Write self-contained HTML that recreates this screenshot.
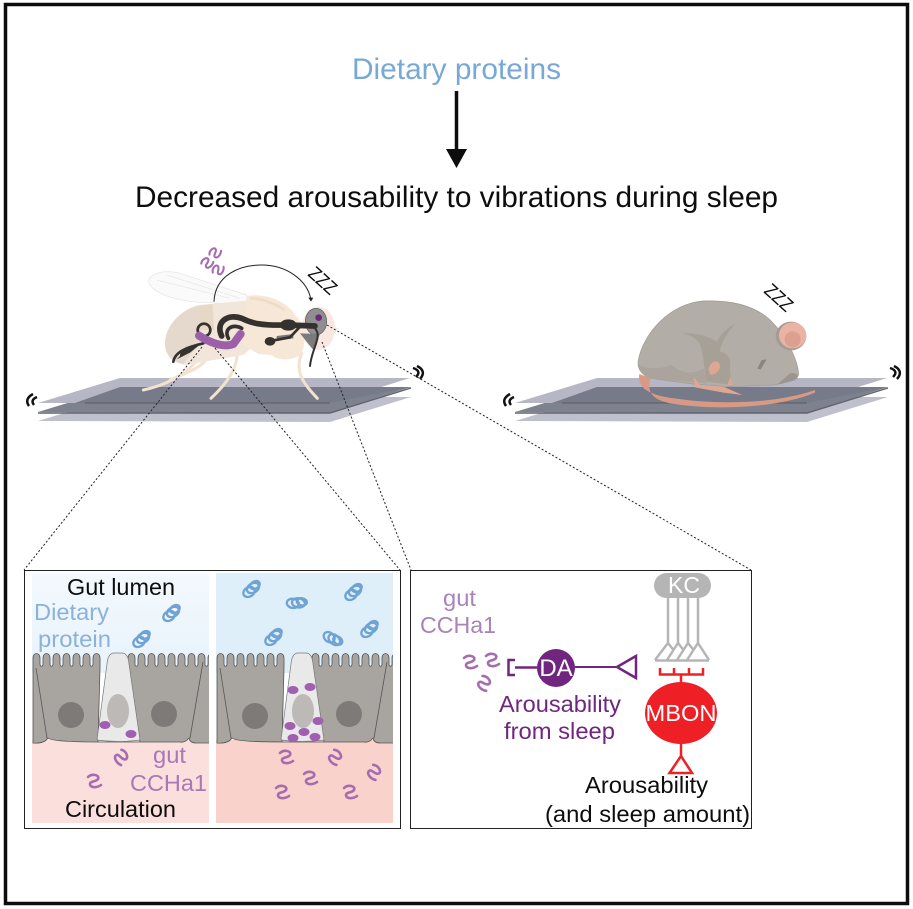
<!DOCTYPE html>
<html><head><meta charset="utf-8"><style>
html,body{margin:0;padding:0;background:#fff}
svg{display:block}
text{font-family:"Liberation Sans",Arial,sans-serif}
</style></head><body>
<svg width="913" height="909" viewBox="0 0 913 909" xmlns="http://www.w3.org/2000/svg">
<defs>
<path id="sq" d="M-6,-4 C-2,-8 6,-6 4,-2 C2,1 -4,0 -4,3 C-4,7 3,7 7,4" fill="none" stroke="#a56db0" stroke-width="2.6" stroke-linecap="round"/>
<g id="coil" fill="none" stroke="#6fa3d4" stroke-width="2.3">
<ellipse cx="-3" cy="3" rx="6" ry="4.6" transform="rotate(-30 -3 3)"/>
<ellipse cx="1" cy="-1" rx="6.5" ry="4.6" transform="rotate(-30 1 -1)"/>
<ellipse cx="3" cy="-4" rx="5" ry="3.6" transform="rotate(-30 3 -4)"/>
</g>
<g id="plat">
<polygon points="38,421 120,396 411,397 330,422" fill="#c0c0cd"/>
<polygon points="38,412 120,387 411,387 330,413" fill="#7e828f"/>
<path d="M38,413 L330,413 L411,388" fill="none" stroke="#5f6370" stroke-width="1.4"/>
<polygon points="38,403 120,378 410,378 330,403" fill="#b6b6c4"/>
<polygon points="75,403 120,387 411,387 330,403" fill="#777b89"/>
<path d="M85,403 L330,403" stroke="#5f6370" stroke-width="1.2"/>
<path d="M33,394 Q24,399 29,406 M37,397 Q30,400 34,405" fill="none" stroke="#111" stroke-width="2.5"/>
<path d="M413,368 Q422,371 416,377 M417,366 Q427,371 420,379" fill="none" stroke="#111" stroke-width="2.5"/>
</g>
<linearGradient id="lum" x1="0" y1="0" x2="0" y2="1"><stop offset="0" stop-color="#f3f9fe"/><stop offset="1" stop-color="#e8f3fb"/></linearGradient>
<clipPath id="c1"><rect x="32" y="573" width="177" height="250"/></clipPath>
<clipPath id="c2"><rect x="216" y="573" width="177" height="250"/></clipPath>
<g id="cells">
<path d="M33,743 V664 v-6 c0,-6 7,-6 7,0 v6 c0,3 3,3 3,0 v-6 c0,-6 7,-6 7,0 v6 c0,3 3,3 3,0 v-6 c0,-6 7,-6 7,0 v6 c0,3 3,3 3,0 v-6 c0,-6 7,-6 7,0 v6 c0,3 3,3 3,0 v-6 c0,-6 7,-6 7,0 v6 c0,3 3,3 3,0 v-6 c0,-6 7,-6 7,0 v6 c0,3 3,3 3,0 v-6 c0,-6 7,-6 7,0 v10 L98,742 H140 L128,668 V664 v-6 c0,-6 7,-6 7,0 v6 c0,3 3,3 3,0 v-6 c0,-6 7,-6 7,0 v6 c0,3 3,3 3,0 v-6 c0,-6 7,-6 7,0 v6 c0,3 3,3 3,0 v-6 c0,-6 7,-6 7,0 v6 c0,3 3,3 3,0 v-6 c0,-6 7,-6 7,0 v6 c0,3 3,3 3,0 v-6 c0,-6 7,-6 7,0 v6 c0,3 3,3 3,0 v-6 c0,-6 7,-6 7,0 v6 c0,3 3,3 3,0 v-6 c0,-6 7,-6 7,0 v6 c0,3 3,3 3,0 v-6 c0,-4 4,-4 4,0 V743 H196 Q190,743 189,738 Q185,743 180,742 H100 Q52,742 48,738 Q44,744 33,743 Z" fill="#a8a5a1" stroke="#555" stroke-width=".8"/>
<path d="M36,668 L47,738 M203,662 L190,738" fill="none" stroke="#555" stroke-width=".8"/>
<path d="M97,740 L107,664 Q108,653 114,653 H122 Q128,653 129,664 L140,740 Q118,743 97,740 Z" fill="#e9e9e9" stroke="#777" stroke-width=".7"/>
</g>
</defs>

<rect x="5.5" y="4.5" width="902" height="899" fill="#fff" stroke="#0d0d0d" stroke-width="3.5"/>

<text x="352" y="79" font-size="29.9" fill="#77a8d6" textLength="209" lengthAdjust="spacingAndGlyphs">Dietary proteins</text>
<path d="M456.5,91 V150" stroke="#0d0d0d" stroke-width="3.5"/>
<polygon points="446,149 467,149 456.5,168" fill="#0d0d0d"/>
<text x="135" y="207" font-size="29.7" fill="#0d0d0d" textLength="643" lengthAdjust="spacingAndGlyphs">Decreased arousability to vibrations during sleep</text>

<use href="#plat"/>
<use href="#plat" x="477"/>

<!-- Fly -->
<g transform="translate(130,230) scale(.33333)">
<path d="M55,155 C60,130 100,118 150,130 L350,195 L352,228 L250,218 C150,218 70,195 55,155 Z" fill="#fbfafa" stroke="#e6e4e4" stroke-width="2"/>
<path d="M80,150 L300,205 M110,135 L330,205" stroke="#e8e6e6" stroke-width="2" fill="none"/>
<g fill="none" stroke="#f2e2cf" stroke-width="9" stroke-linecap="round">
<path d="M215,370 C180,430 110,465 40,480"/>
<path d="M230,360 C250,400 170,430 120,450"/>
<path d="M322,360 C325,420 280,470 243,505"/>
<path d="M515,370 C490,430 530,470 562,505"/>
</g>
<path d="M105,340 C105,290 150,240 205,225 L350,212 L380,340 L340,375 L240,392 L170,405 C130,400 105,375 105,340 Z" fill="#f1e6d9"/>
<path d="M105,340 C105,290 150,240 205,228 L215,330 L160,402 C125,395 105,375 105,340 Z" fill="#e4d9cc"/>
<path d="M205,228 L248,222 L252,300 L210,300 Z" fill="#e6d8c6"/>
<path d="M350,198 C400,188 470,210 495,255 C530,285 530,350 510,375 C480,395 440,390 425,375 L385,372 L340,345 Z" fill="#f7e7d7"/>
<path d="M360,205 C400,205 440,225 465,240" fill="none" stroke="#eedcc8" stroke-width="8"/>
<ellipse cx="565" cy="295" rx="50" ry="65" fill="#f9e8e2"/>
<path d="M595,285 L625,295 L590,335 Z" fill="#f9e8e2"/>
<ellipse cx="558" cy="275" rx="32" ry="40" fill="#8f8f8f" stroke="#555" stroke-width="2"/>
<circle cx="566" cy="263" r="10" fill="#70267f"/>
<path d="M510,310 L570,312 L550,360 Z" fill="#7b7b7b"/>
<path d="M440,318 L490,312 L490,325 L440,330 Z" fill="#777"/>
<g fill="none" stroke="#35312e" stroke-linecap="round">
<path d="M130,395 C135,365 170,352 220,340" stroke-width="8"/>
<circle cx="222" cy="300" r="19" stroke-width="8"/>
<path d="M275,318 C255,275 295,250 335,265 C365,280 395,287 470,285 L555,288" stroke-width="17"/>
<path d="M295,325 C280,295 310,280 335,295" stroke-width="11"/>
<path d="M410,335 L480,322 L510,290" stroke-width="8"/>
<path d="M555,295 C578,320 545,355 540,408" stroke-width="6"/>
</g>
<path d="M150,378 C150,352 185,345 215,340 L180,368 L140,388 Z" fill="#35312e"/>
<ellipse cx="475" cy="285" rx="25" ry="17" fill="#35312e"/>
<ellipse cx="420" cy="334" rx="16" ry="13" fill="#35312e"/>
<path d="M207,317 C235,335 280,355 310,342 L332,312" fill="none" stroke="#9c60a8" stroke-width="24" stroke-linecap="round"/>
<path d="M252,215 C255,135 330,105 395,105 C470,105 530,150 542,205" fill="none" stroke="#222" stroke-width="3"/>
<polygon points="535,203 550,203 543,215" fill="#222"/>
</g>
<use href="#sq" transform="translate(215,253) rotate(-50) scale(.8)"/>
<use href="#sq" transform="translate(207,263) rotate(-40) scale(.8)"/>
<use href="#sq" transform="translate(218,270) rotate(-60) scale(.8)"/>
<text x="307" y="275" font-size="19" fill="#0d0d0d" transform="rotate(42 307 275)" textLength="31" lengthAdjust="spacingAndGlyphs">ZZZ</text>

<!-- Mouse -->
<g transform="translate(490,270) scale(.33333)">
<path d="M445,270 C460,190 540,100 640,93 C720,90 800,105 850,160 C890,200 922,270 925,305 C932,330 900,335 850,345 L720,350 L610,342 L480,325 C455,315 440,295 445,270 Z" fill="#b2ada7" stroke="#9f9a94" stroke-width="2"/>
<path d="M445,285 C480,300 520,295 545,285 C570,310 610,315 640,295 L650,340 L480,325 C455,315 445,300 445,285 Z" fill="#aaa49c"/>
<path d="M575,190 C620,188 660,200 680,215 C695,190 715,170 735,162 C710,190 690,225 690,245 C710,250 725,260 720,300 L725,345 L650,335 C640,300 645,250 625,215 C610,200 595,193 575,190 Z" fill="#a6a097"/>
<path d="M900,310 C925,305 930,325 910,332 L860,345 Z" fill="#9a958e"/>
<path d="M815,270 L830,268 L812,298 L802,296 Z" fill="#8a857e"/>
<ellipse cx="903" cy="198" rx="46" ry="43" fill="#a39d95"/>
<ellipse cx="908" cy="196" rx="41" ry="39" fill="#ebb3a4"/>
<ellipse cx="908" cy="208" rx="24" ry="24" fill="#dc9f90"/>
<path d="M448,312 C440,360 490,378 560,386 C660,402 850,405 975,360 L975,368 C850,420 650,418 555,402 C480,392 470,360 482,325 Z" fill="#d99a85"/>
<path d="M610,320 L632,348 L700,350 L757,375 L700,368 L615,352 Z" fill="#e0a692"/>
<path d="M655,300 C660,270 690,265 690,290 C688,305 670,320 660,312 Z" fill="#dfa593"/>
<path d="M712,345 L722,320 L728,345 Z" fill="#dfa593"/>
</g>
<text x="763" y="292" font-size="19" fill="#0d0d0d" transform="rotate(42 763 292)" textLength="31" lengthAdjust="spacingAndGlyphs">ZZZ</text>

<!-- Dotted zoom lines -->
<g fill="none" stroke="#222" stroke-width="1" stroke-dasharray="2 2">
<path d="M202,347 L24,570"/>
<path d="M215,348 L400,570"/>
<path d="M322,342 L411,570"/>
<path d="M327,325 L751,570"/>
</g>

<!-- Boxes -->
<rect x="24.5" y="570.5" width="376" height="258" fill="#fff" stroke="#222" stroke-width="1"/>
<rect x="410.5" y="570.5" width="341" height="258" fill="#fff" stroke="#222" stroke-width="1"/>

<!-- Gut panels -->
<rect x="32" y="573" width="177" height="100" fill="url(#lum)"/>
<rect x="32" y="740" width="177" height="83" fill="#fbdfdc"/>
<rect x="216" y="573" width="177" height="100" fill="#dfeffa"/>
<rect x="216" y="740" width="177" height="83" fill="#f9d3cb"/>
<g clip-path="url(#c1)"><use href="#cells"/></g>
<g clip-path="url(#c2)"><use href="#cells" x="184"/></g>
<g fill="#7d7a78"><circle cx="71" cy="715" r="13"/><circle cx="164" cy="714" r="13"/><circle cx="255" cy="716" r="13"/><circle cx="349" cy="714" r="13"/></g>
<g fill="#bdb9b6"><ellipse cx="118" cy="711" rx="11" ry="17"/><ellipse cx="303" cy="711" rx="11" ry="17"/></g>
<g fill="#a05fb0">
<ellipse cx="105" cy="725" rx="5.5" ry="4"/><ellipse cx="131" cy="734" rx="5.5" ry="4"/>
<ellipse cx="293" cy="690" rx="5.5" ry="4"/><ellipse cx="310" cy="687" rx="5.5" ry="4"/><ellipse cx="318" cy="721" rx="5.5" ry="4"/><ellipse cx="290" cy="726" rx="5.5" ry="4"/><ellipse cx="304" cy="732" rx="5.5" ry="4"/><ellipse cx="293" cy="738" rx="5.5" ry="4"/><ellipse cx="315" cy="737" rx="5.5" ry="4"/>
</g>
<use href="#coil" transform="translate(172,613)"/>
<use href="#coil" transform="translate(142,639)"/>
<use href="#coil" transform="translate(252,589)"/>
<use href="#coil" transform="translate(297,603) rotate(40)"/>
<use href="#coil" transform="translate(354,592)"/>
<use href="#coil" transform="translate(274,637)"/>
<use href="#coil" transform="translate(333,639) rotate(70)"/>
<use href="#coil" transform="translate(370,629)"/>
<use href="#sq" transform="translate(121,757) rotate(60)"/>
<use href="#sq" transform="translate(94,781)"/>
<use href="#sq" transform="translate(286,757)"/>
<use href="#sq" transform="translate(335,757) rotate(50)"/>
<use href="#sq" transform="translate(374,772) rotate(50)"/>
<use href="#sq" transform="translate(310,778)"/>
<use href="#sq" transform="translate(282,792)"/>
<use href="#sq" transform="translate(350,792)"/>

<g font-size="23.5">
<text x="67" y="595" fill="#0d0d0d" textLength="108" lengthAdjust="spacingAndGlyphs">Gut lumen</text>
<text x="34" y="620" fill="#8ab2db" textLength="75" lengthAdjust="spacingAndGlyphs">Dietary</text>
<text x="38" y="647" fill="#8ab2db" textLength="73" lengthAdjust="spacingAndGlyphs">protein</text>
<text x="153" y="763" fill="#a878b8" textLength="33" lengthAdjust="spacingAndGlyphs">gut</text>
<text x="130" y="791" fill="#a878b8" textLength="77" lengthAdjust="spacingAndGlyphs">CCHa1</text>
<text x="65" y="817" fill="#0d0d0d" textLength="111" lengthAdjust="spacingAndGlyphs">Circulation</text>
<text x="443" y="606" fill="#a884b8" textLength="33" lengthAdjust="spacingAndGlyphs">gut</text>
<text x="420" y="633" fill="#a884b8" textLength="76" lengthAdjust="spacingAndGlyphs">CCHa1</text>
<text x="499" y="712" fill="#70267f" textLength="122" lengthAdjust="spacingAndGlyphs">Arousability</text>
<text x="504" y="739" fill="#70267f" textLength="111" lengthAdjust="spacingAndGlyphs">from sleep</text>
<text x="585" y="793" fill="#0d0d0d" textLength="123" lengthAdjust="spacingAndGlyphs">Arousability</text>
<text x="545" y="822" fill="#0d0d0d" textLength="205" lengthAdjust="spacingAndGlyphs">(and sleep amount)</text>
</g>

<!-- Neural circuit -->
<use href="#sq" transform="translate(470,662)"/>
<use href="#sq" transform="translate(492,660)"/>
<use href="#sq" transform="translate(484,683) rotate(45)"/>
<path d="M515,660 H508.5 V675 H515 M515,667.5 H537" fill="none" stroke="#70267f" stroke-width="2.5"/>
<path d="M575,667 H617" stroke="#70267f" stroke-width="2"/>
<polygon points="617,667 636,656 636,678" fill="#fff" stroke="#70267f" stroke-width="2.5"/>
<circle cx="556" cy="668" r="19" fill="#70267f"/>
<text x="556" y="676" font-size="24" fill="#fff" text-anchor="middle">DA</text>

<rect x="654" y="573" width="57" height="25" rx="12.5" fill="#b5b5b5"/>
<text x="684" y="593" font-size="23" fill="#fff" text-anchor="middle">KC</text>
<g fill="none" stroke="#b5b5b5" stroke-width="2.5">
<path d="M668,598 V644 M678,598 V644 M688,598 V644 M698,598 V643"/>
<path d="M655,660 L668,643 L673.5,650"/>
<path d="M667,660 L678,643 L683.5,650"/>
<path d="M677,660 L688,643 L693.5,650"/>
<path d="M687,660 L698,643 L709,660"/>
<path d="M655,660.5 H709"/>
</g>
<path d="M660,668 V674.5 H703 V668 M674,668 V674.5 M689,668 V674.5 M681,674.5 V684" fill="none" stroke="#ee2026" stroke-width="2.5"/>
<ellipse cx="681" cy="713" rx="36" ry="31" fill="#ee2026"/>
<text x="681" y="721" font-size="23.5" fill="#fff" text-anchor="middle" textLength="71" lengthAdjust="spacingAndGlyphs">MBON</text>
<path d="M681,744 V756" stroke="#ee2026" stroke-width="2.5"/>
<polygon points="681,756 669.5,773 692,773" fill="#fff" stroke="#ee2026" stroke-width="2.5"/>
</svg>
</body></html>
